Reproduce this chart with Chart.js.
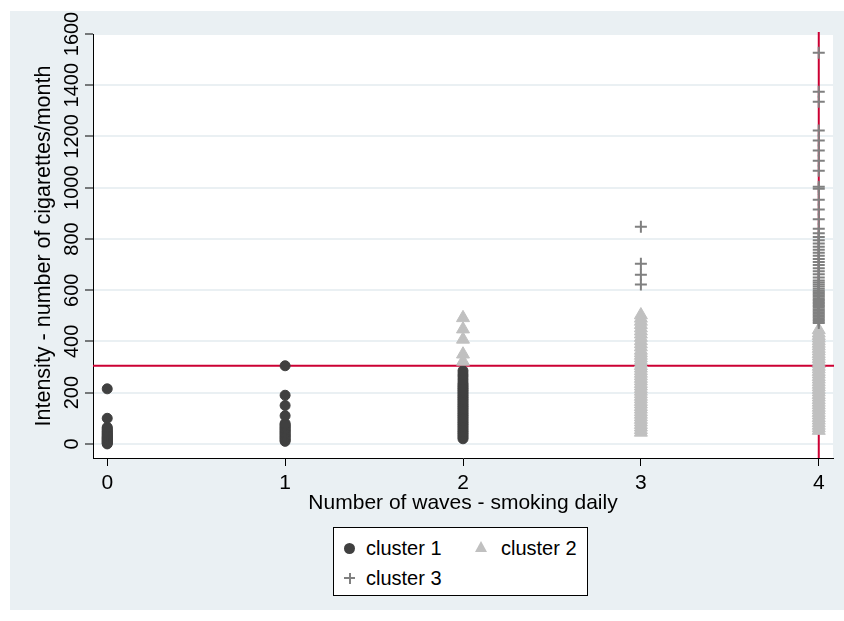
<!DOCTYPE html>
<html>
<head>
<meta charset="utf-8">
<script src="https://cdn.jsdelivr.net/npm/chart.js@4/dist/chart.umd.min.js"></script>
<style>
  body { margin: 0; background: #fff; }
  #wrap { position: relative; width: 844px; height: 621px; }
  #legend {
    position: absolute; left: 333px; top: 527px; width: 253px; height: 67px;
    background: #fff; border: 1px solid #000;
    font-family: "Liberation Sans", Arial, sans-serif; font-size: 20px; color: #000;
  }
  .lab { position: absolute; line-height: 20px; white-space: nowrap; }
  .dot { position: absolute; width: 11px; height: 11px; border-radius: 50%; background: #404040; }
  .tri { position: absolute; width: 0; height: 0; border-left: 6px solid transparent; border-right: 6px solid transparent; border-bottom: 11px solid #c0c0c0; }
  .plh { position: absolute; width: 11px; height: 2px; background: #808080; }
  .plv { position: absolute; width: 2px; height: 11px; background: #808080; }
</style>
</head>
<body>
<div id="wrap">
  <canvas id="myChart" width="844" height="621"></canvas>
  <div id="legend">
    <div class="dot" style="left:10px; top:15px;"></div>
    <div class="lab" style="left:32px; top:10px;">cluster 1</div>
    <div class="tri" style="left:141px; top:13px;"></div>
    <div class="lab" style="left:167px; top:10px;">cluster 2</div>
    <div class="plh" style="left:10px; top:49px;"></div>
    <div class="plv" style="left:14.5px; top:44.5px;"></div>
    <div class="lab" style="left:32px; top:40px;">cluster 3</div>
  </div>
</div>
<script>
// values, one array per cluster and wave
const xTicks = [0, 1, 2, 3, 4];
const yTicks = [0, 200, 400, 600, 800, 1000, 1200, 1400, 1600];
const yLineValue = 305;
const xLineValue = 4;

const cluster1Wave0 = [0, 3, 6, 9, 12, 15, 18, 21, 24, 27, 30, 34, 38, 42, 46, 50, 55, 60, 65, 100, 215];
const cluster1Wave1 = [10, 15, 20, 25, 30, 35, 40, 45, 50, 55, 60, 65, 70, 75, 80, 110, 150, 190, 305];
const cluster1Wave2 = [20, 27, 34, 41, 48, 55, 62, 69, 76, 83, 90, 97, 104, 111, 118, 125, 132, 139, 146, 153,
  160, 167, 174, 181, 188, 195, 202, 209, 216, 223, 230, 238, 250, 262, 272, 285];

const cluster2Wave2 = [322, 350, 408, 448, 492];
const cluster2Wave3 = [45, 55, 65, 75, 85, 95, 105, 115, 125, 135, 145, 155, 165, 175, 185, 195, 205, 215, 225,
  235, 245, 255, 265, 275, 285, 295, 305, 315, 325, 335, 345, 355, 365, 378, 390, 402, 415, 428, 440, 452, 465,
  478, 490, 503];
const cluster2Wave4 = [52, 62, 72, 82, 92, 102, 112, 122, 132, 142, 152, 162, 172, 182, 192, 202, 212, 222, 232,
  242, 252, 262, 272, 282, 292, 302, 312, 322, 332, 342, 352, 362, 372, 382, 392, 402, 412, 422, 432, 445];

const cluster3Wave3 = [622, 660, 703, 848];
const cluster3Wave4 = [472, 478, 484, 490, 496, 502, 508, 514, 520, 526, 532, 538, 544, 550, 556, 562, 568, 574,
  580, 586, 592, 598, 606, 614, 622, 630, 638, 650, 662, 674, 686, 698, 710, 722, 734, 746, 758, 770, 782, 795,
  808, 822, 840, 877, 915, 953, 996, 1004, 1066, 1105, 1145, 1184, 1223, 1336, 1375, 1527];

const pts = (wave, vals) => vals.map((v) => ({ x: wave, y: v }));

const font = '"Liberation Sans", Arial, sans-serif';

const backdrop = {
  id: "backdrop",
  beforeDraw(chart) {
    const { ctx, chartArea } = chart;
    ctx.save();
    ctx.fillStyle = "#ffffff";
    ctx.fillRect(0, 0, chart.width, chart.height);
    ctx.fillStyle = "#eaf0f3";
    ctx.fillRect(10, 11, chart.width - 10, 599);
    ctx.fillStyle = "#ffffff";
    ctx.fillRect(chartArea.left, chartArea.top, chartArea.right - chartArea.left, chartArea.bottom - chartArea.top);
    ctx.restore();
  },
};

const refLines = {
  id: "refLines",
  beforeDatasetsDraw(chart) {
    const { ctx, chartArea, scales } = chart;
    const py = scales.y.getPixelForValue(yLineValue);
    const px = scales.x.getPixelForValue(xLineValue);
    ctx.save();
    ctx.strokeStyle = "#cc0033";
    ctx.lineWidth = 2;
    ctx.beginPath();
    ctx.moveTo(chartArea.left, py);
    ctx.lineTo(chartArea.right + 1, py);
    ctx.moveTo(px, chartArea.top - 2);
    ctx.lineTo(px, chartArea.bottom);
    ctx.stroke();
    ctx.restore();
  },
};

// y tick labels are rotated like the original
const yLabels = {
  id: "yLabels",
  afterDraw(chart) {
    const { ctx, scales } = chart;
    ctx.save();
    ctx.fillStyle = "#000";
    ctx.font = "20px " + font;
    ctx.textAlign = "center";
    ctx.textBaseline = "middle";
    scales.y.ticks.forEach((t) => {
      const py = scales.y.getPixelForValue(t.value);
      ctx.save();
      ctx.translate(72, py);
      ctx.rotate(-Math.PI / 2);
      ctx.fillText(String(t.value), 0, 0);
      ctx.restore();
    });
    ctx.restore();
  },
};

const ctx = document.getElementById("myChart").getContext("2d");
const myChart = new Chart(ctx, {
  type: "scatter",
  data: {
    datasets: [
      {
        label: "cluster 1",
        data: [...pts(0, cluster1Wave0), ...pts(1, cluster1Wave1), ...pts(2, cluster1Wave2)],
        pointStyle: "circle",
        pointRadius: 5,
        pointBorderWidth: 1,
        backgroundColor: "#404040",
        borderColor: "#404040",
        order: 3,
      },
      {
        label: "cluster 2",
        data: [...pts(2, cluster2Wave2), ...pts(3, cluster2Wave3), ...pts(4, cluster2Wave4)],
        pointStyle: "triangle",
        pointRadius: 7.5,
        pointBorderWidth: 1,
        backgroundColor: "#c0c0c0",
        borderColor: "#c0c0c0",
        order: 2,
      },
      {
        label: "cluster 3",
        data: [...pts(3, cluster3Wave3), ...pts(4, cluster3Wave4)],
        pointStyle: "cross",
        pointRadius: 6,
        pointBorderWidth: 2,
        backgroundColor: "#808080",
        borderColor: "#808080",
        order: 1,
      },
    ],
  },
  options: {
    responsive: false,
    animation: false,
    devicePixelRatio: 1,
    layout: { padding: { left: 0, top: 34, right: 11, bottom: 105 } },
    plugins: { legend: { display: false }, tooltip: { enabled: false } },
    scales: {
      x: {
        type: "linear",
        min: -0.08,
        max: 4.08,
        afterBuildTicks: (s) => { s.ticks = xTicks.map((v) => ({ value: v })); },
        afterFit: (s) => { s.height = 58; },
        ticks: { color: "#000", font: { family: font, size: 21 }, padding: 5, maxRotation: 0 },
        grid: { drawOnChartArea: false, drawTicks: true, tickLength: 8, tickColor: "#000", tickWidth: 1 },
        border: { display: true, color: "#000", width: 1 },
        title: {
          display: true,
          text: "Number of waves - smoking daily",
          color: "#000",
          font: { family: font, size: 21 },
          padding: { top: 0, bottom: 0 },
        },
      },
      y: {
        type: "linear",
        min: -55,
        max: 1600,
        afterBuildTicks: (s) => { s.ticks = yTicks.map((v) => ({ value: v })); },
        afterFit: (s) => { s.width = 93; },
        ticks: { display: false },
        grid: { color: "#eaf0f3", lineWidth: 2, drawTicks: true, tickLength: 8, tickColor: "#000", tickWidth: 1 },
        border: { display: true, color: "#000", width: 1 },
        title: {
          display: true,
          text: "Intensity - number of cigarettes/month",
          color: "#000",
          font: { family: font, size: 21.5 },
          padding: { top: 31, bottom: 0 },
        },
      },
    },
  },
  plugins: [backdrop, refLines, yLabels],
});
</script>
</body>
</html>
